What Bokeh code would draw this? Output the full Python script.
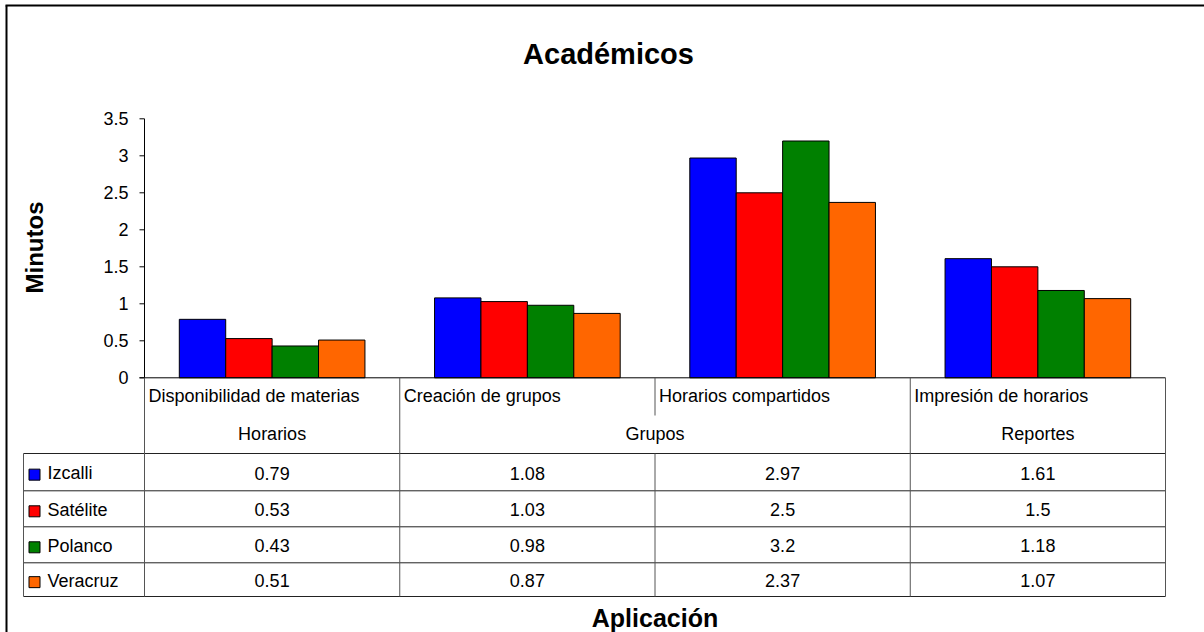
from bokeh.plotting import figure
from bokeh.models import Range1d
from bokeh.core.properties import value
from bokeh.embed import file_html
from bokeh.resources import INLINE

# --- data -----------------------------------------------------------------
title_text = "Académicos"
y_title = "Minutos"
x_title = "Aplicación"

subcategories = ["Disponibilidad de materias", "Creación de grupos",
                 "Horarios compartidos", "Impresión de horarios"]
groups = ["Horarios", "Grupos", "Reportes"]
group_spans = [(0, 1), (1, 3), (3, 4)]          # category index ranges per group

series_names = ["Izcalli", "Satélite", "Polanco", "Veracruz"]
izcalli = [0.79, 1.08, 2.97, 1.61]
satelite = [0.53, 1.03, 2.50, 1.50]
polanco = [0.43, 0.98, 3.20, 1.18]
veracruz = [0.51, 0.87, 2.37, 1.07]
series_values = [izcalli, satelite, polanco, veracruz]
series_colors = ["#0000FF", "#FF0000", "#008000", "#FF6600"]

y_ticks = [0, 0.5, 1, 1.5, 2, 2.5, 3, 3.5]
y_tick_labels = ["0", "0.5", "1", "1.5", "2", "2.5", "3", "3.5"]

# --- layout (pixels on the 1204 x 632 canvas) -------------------------------
W, H = 1204, 632
AXIS_X = 144.0         # pixel column of the value axis (category 0 edge)
CAT_PX = 255.25        # pixel width of one category
ZERO_Y = 377.3         # pixel row of value 0
UNIT_PX = 74.0         # pixels per minute

def dx(px):
    return (px - AXIS_X) / CAT_PX

def dy(py):
    return (ZERO_Y - py) / UNIT_PX

FONT = value("Liberation Sans")
TXT = "18px"
N_CAT = len(subcategories)
N_SER = len(series_names)
BAR_W = 1.0 / (N_SER + 1.5)     # gap width of 150 %

p = figure(width=W, height=H, output_backend="svg", toolbar_location=None,
           x_range=Range1d(dx(0), dx(W)), y_range=Range1d(dy(H), dy(0)),
           x_axis_location=None, y_axis_location=None, min_border=0,
           outline_line_color=None, background_fill_color="white",
           border_fill_color="white")
p.grid.visible = False

# outer chart border (left and top edges)
p.multi_line(xs=[[dx(6), dx(6)], [dx(5), dx(W)]],
             ys=[[dy(H), dy(5)], [dy(5), dy(5)]],
             line_color="black", line_width=2)

# bars
for j, vals in enumerate(series_values):
    xs = [i + 0.5 + (j - (N_SER - 1) / 2) * BAR_W for i in range(N_CAT)]
    p.vbar(x=xs, top=vals, bottom=0, width=BAR_W,
           fill_color=series_colors[j], line_color="black", line_width=1)

# value axis line, ticks and labels
p.segment(x0=[0], y0=[0], x1=[0], y1=[y_ticks[-1]], line_color="black", line_width=1)
p.segment(x0=[dx(139)] * len(y_ticks), y0=y_ticks,
          x1=[0] * len(y_ticks), y1=y_ticks, line_color="black", line_width=1)
p.segment(x0=[dx(139)], y0=[0], x1=[N_CAT], y1=[0], line_color="black", line_width=1)
p.text(x=[dx(128)] * len(y_ticks), y=y_ticks, text=y_tick_labels,
       text_font=FONT, text_font_size=TXT, text_align="right",
       text_baseline="middle", text_color="black")

# data table below the categories
ROW_SUB = (ZERO_Y, 415.0)
ROW_GRP = (415.0, 453.0)
DATA_ROWS = [(453.0, 490.3), (490.3, 526.3), (526.3, 562.3), (562.3, 596.0)]
LEG_X = 23.0
TABLE_BOTTOM = DATA_ROWS[-1][1]

h_xs, h_ys = [], []
for py in [ROW_GRP[1]] + [r[1] for r in DATA_ROWS]:
    h_xs.append([dx(LEG_X), N_CAT])
    h_ys.append([dy(py), dy(py)])
p.multi_line(xs=h_xs, ys=h_ys, line_color="#222222", line_width=1)

v_xs, v_ys = [], []
v_xs.append([dx(LEG_X), dx(LEG_X)])
v_ys.append([dy(ROW_GRP[1]), dy(TABLE_BOTTOM)])
group_edges = sorted({e for span in group_spans for e in span})
for c in range(N_CAT + 1):
    if c in group_edges:
        v_xs.append([c, c])
        v_ys.append([0, dy(TABLE_BOTTOM)])
    else:
        v_xs.append([c, c])
        v_ys.append([0, dy(ROW_SUB[1])])
        v_xs.append([c, c])
        v_ys.append([dy(ROW_GRP[1]), dy(TABLE_BOTTOM)])
p.multi_line(xs=v_xs, ys=v_ys, line_color="#555555", line_width=1)

# category names (left aligned in their cells)
p.text(x=[i + dx(AXIS_X + 4) for i in range(N_CAT)],
       y=[dy(395.5)] * N_CAT, text=subcategories,
       text_font=FONT, text_font_size=TXT, text_align="left",
       text_baseline="middle", text_color="black")

# group names (centred across their spans)
p.text(x=[(a + b) / 2 for a, b in group_spans], y=[dy(433)] * len(groups),
       text=groups, text_font=FONT, text_font_size=TXT,
       text_align="center", text_baseline="middle", text_color="black")

# series rows: legend key, name and values
for j, (name, vals) in enumerate(zip(series_names, series_values)):
    top, bot = DATA_ROWS[j]
    mid = (top + bot) / 2 + 1
    p.rect(x=[dx(34)], y=[dy(mid + 1.5)], width=dx(45) - dx(34),
           height=11.0 / UNIT_PX, fill_color=series_colors[j],
           line_color="black", line_width=1)
    p.text(x=[dx(47)], y=[dy(mid)], text=[name], text_font=FONT,
           text_font_size=TXT, text_align="left", text_baseline="middle",
           text_color="black")
    p.text(x=[i + 0.5 for i in range(N_CAT)], y=[dy(mid)] * N_CAT,
           text=[f"{v:g}" for v in vals], text_font=FONT,
           text_font_size=TXT, text_align="center",
           text_baseline="middle", text_color="black")

# titles
p.text(x=[dx(608)], y=[dy(53)], text=[title_text], text_font=FONT,
       text_font_size="29px", text_font_style="bold", text_align="center",
       text_baseline="alphabetic", text_color="black")
p.text(x=[N_CAT / 2], y=[dy(617)], text=[x_title], text_font=FONT,
       text_font_size="25px", text_font_style="bold", text_align="center",
       text_baseline="alphabetic", text_color="black")
p.text(x=[dx(34)], y=[dy(247)], text=[y_title], text_font=FONT,
       text_font_size="24px", text_font_style="bold", text_align="center",
       text_baseline="alphabetic", angle=1.5708, text_color="black")

open("out.html", "w").write(file_html(p, INLINE))
